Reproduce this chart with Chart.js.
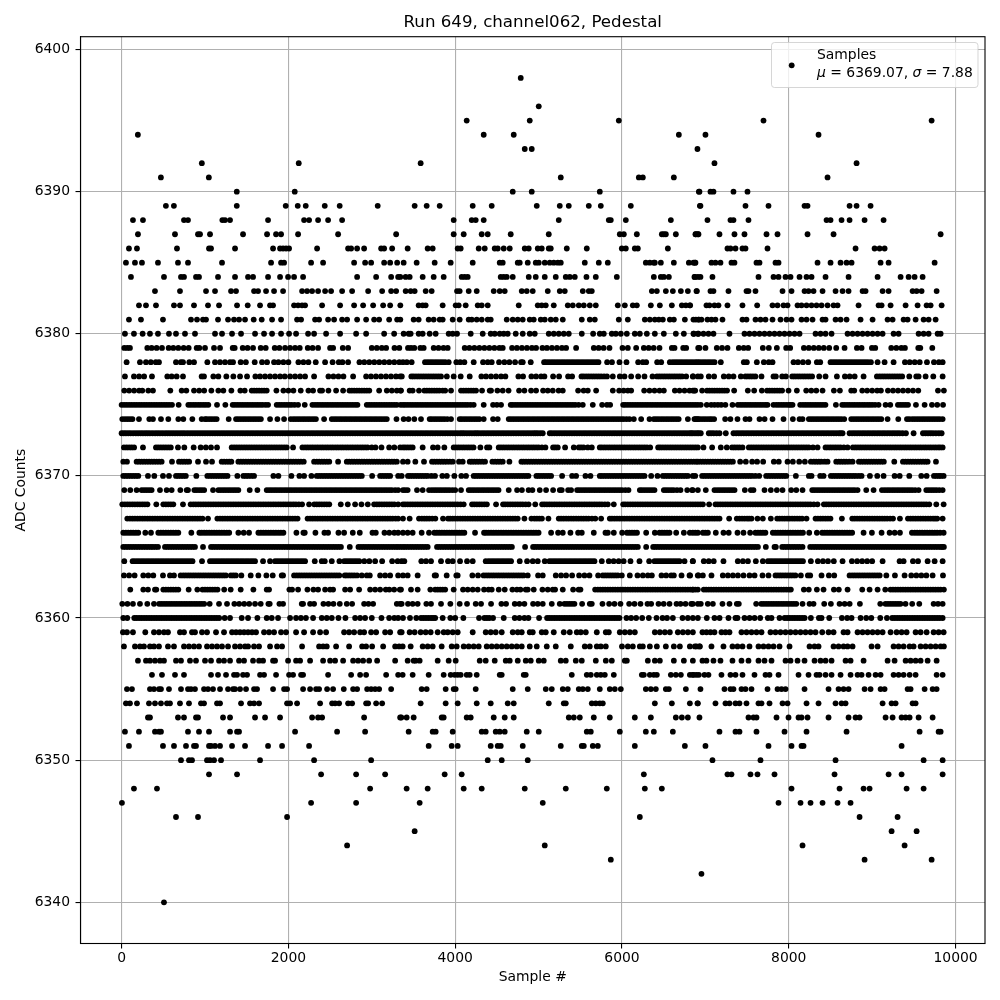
<!DOCTYPE html>
<html>
<head>
<meta charset="utf-8">
<script src="https://cdn.jsdelivr.net/npm/chart.js@4"></script>
<style>
html, body { margin: 0; padding: 0; background: #fff; }
canvas { display: block; }
</style>
</head>
<body>
<canvas id="scatter" width="1000" height="1000"></canvas>
<script>
// sample numbers, one list per ADC level
const s6340 = [508];
const s6342 = [6953];
const s6343 = [5866,8909,9713];
const s6344 = [2704,5074,8165,9389];
const s6345 = [3514,9233,9533];
const s6346 = [652,916,1984,6214,8849,9305];
const s6347 = [4,2272,2812,3574,5050,7877,8141,8261,8405,8585,8741];
const s6348 = [148,424,2980,3418,3670,4102,4318,4834,5326,5818,6274,6478,8033,8609,8897,8969,9413,9617];
const s6349 = [1048,1384,2392,2812,3160,3874,4078,6262,7265,7313,7541,7625,7829,8549,9197,9353,9845];
const s6350 = [712,808,844,1024,1060,1108,1192,1660,2308,2992,4390,4558,4870,7085,7661,8561,9617,9845];
const s6351 = [88,496,628,772,868,892,1048,1072,1120,1180,1324,1480,1756,1924,2248,3682,3958,4030,4426,4510,4546,4810,5266,5518,5542,5650,5710,6154,6754,7001,7757,8033,8153,8177,9353];
const s6352 = [40,208,400,448,472,796,928,1048,1300,1384,1408,2080,2584,2920,3442,3730,3766,3970,4318,4366,4486,4534,4594,4858,5002,5578,5626,5974,6286,6382,6610,7169,7361,7409,7613,7949,8213,8693,9569,9797,9821];
const s6353 = [316,340,676,748,892,916,1216,1300,1600,1720,1900,2284,2356,2404,2908,3340,3354,3418,3502,3838,3862,4138,4186,4462,4594,4702,5362,5422,5494,5662,5854,6154,6346,6646,6718,6790,6929,7517,7577,7613,7853,7997,8117,8153,8225,8477,8717,8801,8849,9161,9245,9353,9401,9449,9557,9725];
const s6354 = [52,100,184,328,400,472,544,580,700,808,952,988,1144,1180,1432,1540,1588,1648,1984,2020,2104,2380,2524,2560,2608,2716,2764,2932,2956,3052,3124,3586,3886,4030,4258,4426,4630,4702,5122,5302,5326,5638,5686,5734,5770,6394,6598,6814,6910,6905,7121,7241,7289,7361,7409,7493,7637,7673,7769,7925,7985,8213,8357,8561,8633,8681,9125,9233,9281,9485,9521];
const s6355 = [64,124,340,388,448,472,568,712,796,832,880,988,1036,1096,1180,1276,1336,1360,1420,1492,1588,1624,1816,1948,1984,2176,2260,2332,2368,2464,2536,2664,2776,2824,2944,2992,3040,3088,3232,3598,3658,3886,3982,4006,4246,4690,4870,5086,5158,5290,5350,5482,5530,5590,5734,5854,5914,5986,6286,6346,6406,6526,6562,6766,6941,7229,7301,7337,7433,7481,7553,7745,7865,7913,7961,8189,8477,8597,8657,8717,8909,8981,9101,9149,9425,9461,9629,9725,9773];
const s6356 = [364,484,640,748,1072,1156,1252,1348,1384,1456,1504,1660,1708,1852,2008,2056,2152,2176,2476,2752,2860,2932,3172,3316,3370,3490,3682,3862,3946,3994,4030,4066,4138,4174,4258,4534,4558,4822,4846,5398,5578,5626,5698,5746,5794,5902,6238,6262,6334,6382,6418,6586,6646,6706,6814,6862,6922,6845,6893,6989,7037,7193,7301,7361,7445,7589,7721,7769,7877,8117,8237,8333,8369,8441,8513,8621,8741,8825,8873,8957,9041,9101,9257,9317,9377,9449,9521,9773,9845];
const s6357 = [196,292,340,400,460,508,652,712,820,892,1000,1072,1168,1228,1300,1408,1468,1576,1648,1696,1816,1840,1996,2092,2140,2260,2416,2500,2560,2656,2776,2836,2896,2968,3064,3280,3430,3502,3526,3574,3790,3922,4006,4294,4366,4474,4606,4654,4750,4846,4906,5002,5062,5266,5326,5446,5518,5686,5806,5878,6034,6058,6310,6394,6454,6622,6742,6850,6965,7013,7097,7181,7325,7433,7517,7637,7709,7793,7961,8021,8105,8189,8309,8381,8441,8513,8681,8741,8897,9185,9269,9401,9461,9521,9581,9665,9773];
const s6358 = [28,160,220,268,340,388,448,556,628,748,808,868,928,1024,1084,1144,1204,1276,1360,1420,1480,1516,1588,1648,1780,1864,1924,2164,2368,2416,2460,2572,2728,2884,2932,3004,3136,3280,3328,3370,3466,3610,3670,3730,3838,3958,4018,4102,4162,4222,4282,4378,4438,4498,4558,4618,4678,4738,4798,4894,4978,5098,5206,5386,5554,5614,5698,5746,5806,6000,6070,6130,6214,6250,6334,6418,6526,6622,6694,6814,6874,6934,6893,6929,7073,7217,7325,7385,7445,7529,7637,7697,7757,7817,7889,8009,8249,8309,8357,8537,8597,8657,8705,8765,8993,9065,9257,9317,9377,9449,9497,9581,9641,9701,9761,9821,9860];
const s6359 = [16,64,136,284,388,448,508,556,700,748,844,880,964,1024,1132,1228,1324,1372,1420,1468,1516,1564,1612,1708,1768,1828,1912,1972,2092,2188,2296,2380,2452,2668,2728,2788,2860,2908,2992,3052,3160,3220,3340,3358,3454,3514,3586,3646,3706,3790,3862,3910,3970,4030,4210,4366,4426,4486,4558,4690,4750,4798,4894,4930,5038,5086,5182,5302,5374,5458,5506,5566,5698,5806,5842,5974,6034,6094,6154,6394,6454,6514,6574,6670,6730,6790,6850,6965,7013,7061,7109,7193,7241,7289,7433,7493,7553,7613,7673,7781,7841,7901,7961,8021,8081,8141,8201,8261,8321,8401,8477,8537,8657,8705,8825,8885,8945,9005,9065,9125,9221,9293,9353,9413,9521,9581,9653,9737,9797,9857];
const s6360 = [20,68,152,210,270,330,390,450,510,570,630,690,750,810,870,930,990,1050,1110,1170,1236,1300,1440,1516,1628,1740,1800,1876,2020,2092,2150,2210,2296,2400,2460,2520,2600,2684,2800,2860,2920,3000,3116,3208,3270,3316,3374,3458,3534,3590,3650,3710,3760,3850,3942,4000,4098,4286,4350,4410,4454,4582,4714,4770,4830,4878,5006,5102,5160,5220,5280,5340,5400,5460,5520,5580,5640,5700,5760,5820,5880,5940,5970,6054,6110,6170,6242,6322,6414,6486,6540,6610,6726,6790,6850,6910,7017,7109,7170,7277,7361,7385,7469,7530,7590,7657,7749,7793,7889,7950,8010,8070,8130,8190,8265,8361,8393,8485,8637,8700,8753,8861,8929,8990,9097,9177,9240,9300,9360,9420,9480,9540,9600,9660,9720,9780,9845];
const s6361 = [8,70,136,220,308,388,450,510,570,630,690,750,810,870,930,990,1056,1168,1264,1352,1410,1470,1530,1600,1668,1760,1776,1892,1936,2160,2176,2260,2308,2420,2480,2540,2616,2700,2764,2908,2960,3016,3300,3340,3358,3434,3490,3550,3654,3710,3830,3942,4054,4142,4246,4310,4430,4554,4610,4714,4770,4830,4934,4990,5050,5158,5254,5310,5370,5430,5522,5614,5638,5766,5846,5910,5982,6086,6150,6222,6306,6350,6438,6500,6570,6654,6702,6762,6830,6910,6849,6945,7029,7090,7205,7289,7377,7401,7609,7670,7730,7790,7850,7910,7970,8030,8090,8165,8249,8297,8425,8505,8609,8670,8730,8853,9097,9160,9220,9280,9340,9400,9480,9565,9737,9790,9845];
const s6362 = [104,260,316,400,416,500,560,620,680,804,908,970,1030,1090,1150,1230,1308,1428,1580,1740,1768,2012,2044,2116,2228,2300,2356,2440,2500,2536,2680,2740,2848,2980,3040,3100,3168,3210,3268,3336,3350,3470,3550,3702,3760,3820,3880,3982,4094,4150,4210,4270,4346,4400,4438,4522,4594,4686,4740,4782,4846,4870,4942,5046,5110,5170,5198,5290,5414,5480,5502,5678,5740,5800,5860,5920,5980,6040,6100,6160,6220,6280,6340,6400,6460,6520,6580,6640,6700,6760,6820,6880,6910,6849,6981,7040,7100,7160,7220,7280,7340,7400,7460,7520,7580,7640,7700,7760,7820,7880,7940,8000,8025,8181,8240,8337,8417,8541,8600,8705,8881,8969,9065,9157,9220,9280,9340,9400,9460,9520,9580,9640,9700,9760,9820,9860];
const s6363 = [28,90,156,260,320,380,496,580,628,708,770,830,890,950,1010,1070,1130,1190,1250,1310,1370,1436,1548,1640,1736,1812,1920,1936,2068,2130,2190,2250,2310,2370,2430,2490,2550,2610,2676,2700,2760,2824,2880,2940,2976,3100,3160,3220,3316,3374,3430,3550,3754,3770,3898,4014,4030,4206,4274,4340,4400,4460,4520,4580,4640,4700,4760,4820,4870,4994,5050,5206,5270,5330,5402,5486,5550,5610,5714,5770,5830,5890,5950,5998,6094,6186,6250,6310,6358,6474,6530,6590,6622,6714,6810,6918,6817,6909,6970,7073,7209,7270,7330,7390,7457,7529,7590,7685,7757,7841,7900,7960,8020,8080,8145,8229,8257,8393,8481,8545,8729,8790,8850,8910,8970,9030,9090,9170,9273,9389,9469,9530,9590,9650,9725,9849];
const s6364 = [32,132,190,250,310,370,430,490,550,610,670,730,790,850,964,1060,1120,1180,1240,1300,1360,1420,1480,1540,1600,1696,1780,1840,1900,1960,2020,2080,2140,2200,2316,2400,2436,2520,2612,2670,2730,2790,2850,2910,2970,3040,3124,3244,3310,3358,3390,3594,3650,3710,3830,3914,3970,4058,4142,4210,4366,4430,4490,4550,4610,4670,4774,4862,4930,4990,5074,5130,5190,5250,5310,5370,5430,5490,5550,5610,5670,5758,5842,5900,5960,6020,6102,6210,6326,6390,6450,6510,6570,6630,6690,6750,6850,6849,6981,7040,7100,7217,7389,7450,7510,7605,7689,7750,7810,7870,7930,7990,8050,8110,8170,8265,8349,8410,8470,8540,8645,8757,8820,8880,8940,9000,9125,9329,9377,9489,9550,9665,9749,9845];
const s6365 = [20,80,140,200,260,320,376,436,520,580,640,700,760,820,880,976,1072,1130,1190,1250,1310,1370,1430,1490,1550,1610,1670,1730,1790,1850,1910,1970,2030,2090,2150,2210,2270,2330,2390,2450,2510,2570,2630,2736,2840,2900,2960,3020,3080,3140,3200,3260,3316,3374,3430,3490,3550,3610,3670,3782,3840,3900,3960,4020,4080,4140,4200,4260,4320,4380,4440,4500,4560,4620,4680,4838,4934,4990,5050,5110,5170,5230,5290,5350,5410,5470,5530,5590,5650,5710,5770,5830,5890,5950,6010,6070,6130,6190,6290,6374,6430,6490,6550,6610,6670,6730,6790,6850,6910,6970,7030,7090,7150,7210,7270,7330,7390,7450,7510,7570,7630,7725,7829,7845,7921,7980,8040,8100,8165,8257,8320,8380,8440,8500,8560,8620,8680,8740,8800,8860,8920,8980,9040,9100,9160,9220,9280,9340,9400,9460,9520,9580,9640,9700,9760,9820,9860];
const s6366 = [20,80,140,200,284,352,440,500,560,620,680,836,932,990,1050,1110,1170,1230,1290,1400,1464,1528,1640,1700,1760,1820,1880,1940,2096,2180,2196,2324,2432,2476,2600,2668,2772,2856,3008,3048,3152,3210,3270,3316,3374,3430,3490,3598,3686,3750,3810,3870,3930,3990,4050,4110,4238,4346,4400,4460,4520,4580,4640,4700,4760,4820,4880,4940,5000,5150,5234,5290,5382,5474,5518,5662,5802,5830,5902,6002,6060,6120,6180,6290,6394,6450,6510,6570,6650,6742,6814,6880,6910,6849,6970,7030,7125,7217,7280,7385,7457,7537,7600,7660,7720,7809,7870,7930,7990,8050,8110,8170,8245,8337,8400,8460,8520,8580,8640,8700,8760,8897,8997,9113,9209,9270,9333,9477,9540,9600,9660,9720,9780,9857];
const s6367 = [68,130,190,250,310,370,430,490,550,610,670,730,790,850,910,970,1036,1148,1210,1270,1330,1390,1450,1510,1570,1630,1690,1750,1810,1870,1930,1990,2050,2110,2230,2290,2350,2410,2470,2530,2590,2650,2710,2770,2830,2890,2950,3010,3070,3130,3190,3250,3316,3374,3454,3566,3630,3690,3762,3854,3914,3970,4030,4090,4150,4210,4270,4330,4390,4450,4510,4570,4630,4690,4750,4830,4914,4980,5040,5118,5242,5300,5360,5420,5480,5540,5600,5680,5750,5854,5910,5970,6030,6090,6150,6210,6270,6330,6390,6450,6510,6570,6630,6690,6750,6810,6870,6930,6990,7050,7110,7170,7285,7377,7440,7500,7553,7625,7689,7785,7861,7920,7980,8040,8100,8160,8213,8321,8380,8440,8500,8637,8761,8820,8880,8940,9000,9060,9120,9180,9250,9333,9429,9490,9550,9610,9670,9730,9780,9845];
const s6368 = [8,70,130,190,250,310,416,500,560,620,736,828,890,950,1010,1070,1130,1190,1250,1310,1370,1430,1490,1550,1610,1670,1730,1790,1850,1910,1970,2030,2090,2164,2248,2310,2370,2430,2490,2628,2712,2800,2876,2952,3028,3090,3150,3210,3270,3316,3374,3430,3490,3550,3610,3670,3730,3790,3850,3910,3970,4030,4102,4202,4260,4320,4380,4490,4574,4630,4690,4750,4810,4880,4960,5042,5100,5160,5220,5280,5340,5400,5460,5520,5580,5640,5700,5760,5830,5902,6014,6070,6130,6190,6250,6310,6370,6430,6490,6550,6610,6670,6730,6790,6850,6910,6970,7045,7121,7180,7240,7300,7360,7420,7480,7540,7600,7660,7720,7780,7840,7900,7960,8020,8080,8140,8200,8260,8345,8421,8480,8540,8600,8660,8720,8780,8840,8900,8960,9020,9080,9140,9200,9260,9320,9380,9440,9500,9560,9620,9685,9769,9857];
const s6369 = [32,104,180,240,300,360,460,540,600,704,780,796,872,930,990,1096,1160,1220,1280,1340,1400,1536,1628,1740,1800,1860,1920,1980,2040,2100,2160,2220,2280,2340,2400,2460,2520,2580,2640,2700,2760,2820,2880,2940,3000,3060,3120,3180,3240,3316,3374,3430,3542,3610,3686,3750,3810,3870,3930,4000,4070,4162,4220,4280,4340,4400,4460,4520,4642,4742,4800,4880,4926,5014,5090,5174,5254,5278,5354,5390,5462,5520,5580,5640,5700,5760,5820,5880,5940,6000,6078,6214,6270,6330,6390,6502,6560,6620,6702,6782,6840,6910,6849,7005,7109,7170,7230,7290,7350,7473,7545,7577,7709,7785,7857,7925,8029,8090,8165,8281,8340,8400,8460,8520,8580,8640,8700,8760,8825,8929,9017,9117,9180,9240,9300,9360,9420,9480,9557,9649,9710,9770,9845];
const s6370 = [20,80,140,200,316,392,496,568,652,710,770,896,1028,1090,1150,1210,1270,1388,1460,1520,1588,1820,1880,2036,2132,2188,2276,2340,2400,2460,2520,2580,2640,2700,2760,2820,2880,3004,3100,3160,3220,3316,3358,3434,3490,3550,3610,3670,3758,3846,3900,3990,4074,4130,4222,4280,4340,4400,4460,4520,4580,4640,4700,4760,4820,4878,4974,5030,5090,5150,5282,5402,5450,5562,5622,5734,5790,5850,5910,5970,6030,6090,6150,6210,6270,6350,6426,6490,6550,6610,6670,6730,6790,6878,6849,6961,7020,7080,7140,7200,7260,7320,7380,7440,7500,7560,7645,7729,7790,7850,7910,7970,8085,8241,8273,8377,8417,8505,8565,8625,8685,8745,8805,8873,8973,9061,9137,9269,9330,9445,9589,9653,9741,9800,9857];
const s6371 = [20,64,180,240,300,360,420,480,604,688,750,810,916,1012,1084,1200,1260,1316,1400,1460,1520,1580,1640,1700,1760,1820,1880,1940,2000,2060,2120,2184,2308,2370,2430,2490,2596,2700,2760,2820,2880,2940,3000,3060,3120,3180,3240,3300,3374,3430,3522,3626,3722,3780,3840,3900,3970,4046,4090,4174,4230,4290,4358,4446,4510,4570,4650,4794,4850,4910,4970,5030,5090,5150,5210,5270,5330,5390,5450,5510,5570,5630,5690,5750,5810,5870,5930,5990,6050,6110,6170,6230,6290,6350,6410,6470,6530,6590,6650,6710,6770,6830,6890,6910,6970,7030,7090,7150,7210,7270,7330,7417,7485,7561,7620,7693,7821,7880,7985,8049,8125,8193,8265,8330,8390,8465,8569,8630,8690,8765,8841,8900,8960,9020,9080,9140,9265,9369,9430,9490,9550,9610,9665,9765];
const s6372 = [28,90,150,256,412,470,530,590,676,752,864,948,1010,1072,1144,1320,1380,1440,1500,1560,1620,1680,1740,1800,1860,1920,1980,2056,2168,2230,2290,2350,2410,2470,2530,2590,2650,2710,2770,2830,2890,2950,3044,3116,3208,3270,3340,3374,3430,3490,3610,3734,3790,3870,3982,4040,4100,4160,4220,4302,4382,4410,4522,4580,4640,4700,4760,4820,4880,4940,5000,5082,5174,5230,5318,5422,5482,5540,5638,5734,5790,5850,5910,5970,6030,6090,6150,6210,6270,6338,6434,6490,6550,6610,6670,6730,6790,6850,6910,6977,7081,7185,7257,7320,7380,7445,7521,7580,7640,7700,7760,7820,7880,7940,8000,8060,8120,8180,8240,8345,8441,8500,8560,8620,8705,8769,8830,8890,8950,9010,9070,9130,9190,9250,9310,9370,9430,9490,9550,9610,9670,9730,9790,9845];
const s6373 = [0,52,108,170,228,285,340,402,460,522,580,640,700,758,820,880,940,1000,1060,1120,1180,1240,1300,1360,1420,1480,1540,1600,1660,1720,1780,1840,1900,1960,2020,2080,2140,2200,2260,2320,2380,2440,2500,2560,2620,2680,2740,2800,2860,2920,2980,3040,3100,3160,3220,3280,3340,3400,3460,3520,3580,3640,3700,3760,3820,3880,3940,4000,4060,4110,4170,4230,4280,4340,4400,4460,4520,4580,4640,4700,4760,4820,4880,4940,4990,5050,5134,5190,5250,5310,5370,5430,5490,5550,5610,5670,5730,5790,5850,5910,5970,6030,6090,6150,6210,6270,6330,6390,6450,6510,6570,6630,6690,6750,6810,6849,6900,6945,7041,7100,7170,7245,7337,7400,7460,7520,7580,7640,7700,7760,7820,7880,7940,8000,8060,8120,8180,8240,8300,8360,8420,8480,8540,8600,8645,8729,8790,8850,8910,8970,9030,9090,9150,9210,9270,9330,9405,9497,9609,9670,9730,9800,9833];
const s6374 = [8,70,130,208,332,376,472,560,680,740,848,960,1020,1080,1140,1284,1372,1430,1490,1550,1610,1670,1780,1868,1948,2028,2090,2150,2210,2270,2330,2428,2520,2580,2640,2700,2760,2820,2880,2940,3000,3060,3120,3180,3296,3382,3440,3510,3590,3694,3750,3810,3870,3950,4054,4110,4170,4230,4290,4342,4454,4510,4642,4700,4760,4820,4880,4940,5000,5060,5120,5180,5240,5300,5360,5420,5480,5540,5600,5660,5720,5780,5840,5900,5960,6020,6090,6142,6230,6330,6382,6440,6500,6560,6620,6680,6790,6882,6910,6869,6930,6990,7050,7105,7237,7300,7385,7481,7529,7649,7710,7805,7937,8049,8129,8165,8241,8300,8360,8420,8480,8540,8600,8665,8749,8810,8870,8930,8990,9050,9110,9185,9313,9417,9480,9540,9600,9660,9720,9780,9845];
const s6375 = [0,60,120,180,240,300,360,420,480,540,604,684,800,860,920,980,1040,1144,1244,1332,1390,1450,1510,1570,1630,1690,1756,1860,1920,1980,2040,2116,2196,2288,2350,2410,2470,2530,2590,2650,2710,2770,2828,2940,3000,3060,3120,3180,3240,3300,3345,3374,3430,3490,3550,3610,3670,3730,3790,3850,3910,3970,4030,4090,4150,4222,4342,4454,4500,4550,4666,4720,4780,4840,4900,4960,5020,5080,5140,5200,5260,5320,5380,5440,5530,5650,5762,5820,5858,6014,6070,6130,6190,6250,6310,6370,6430,6490,6550,6610,6670,6730,6790,6850,6910,6945,7017,7070,7110,7150,7190,7240,7325,7389,7450,7510,7570,7630,7690,7745,7817,7880,7940,8000,8045,8137,8200,8260,8320,8380,8440,8565,8641,8700,8760,8820,8880,8940,9000,9077,9161,9217,9309,9370,9430,9525,9629,9717,9780,9850];
const s6376 = [32,90,150,210,248,320,376,584,720,776,868,930,990,1076,1160,1220,1316,1424,1476,1560,1620,1680,1740,1856,1940,2000,2060,2148,2240,2296,2380,2404,2480,2572,2656,2732,2790,2850,2910,2970,3088,3180,3240,3300,3345,3350,3454,3490,3566,3630,3690,3750,3810,3880,3950,4070,4130,4190,4250,4322,4414,4430,4506,4570,4640,4766,4830,4910,4970,5054,5110,5170,5240,5290,5474,5540,5590,5690,5890,5966,6020,6070,6110,6266,6330,6390,6450,6502,6634,6690,6750,6810,6878,6849,6865,6961,7020,7080,7140,7200,7260,7345,7509,7585,7677,7740,7800,7860,7920,7997,8097,8209,8270,8330,8405,8541,8613,8749,8785,8881,8940,9000,9060,9105,9189,9250,9310,9370,9430,9490,9553,9789,9860];
const s6377 = [40,148,210,270,364,548,600,660,736,960,988,1100,1160,1256,1340,1420,1504,1604,1660,1720,1780,1840,1900,1956,2020,2080,2140,2200,2308,2480,2540,2600,2660,2776,2932,2990,3050,3110,3170,3230,3290,3340,3360,3474,3530,3590,3650,3710,3770,3830,3900,3982,4066,4174,4314,4370,4430,4490,4550,4602,4758,4814,4914,4970,5030,5070,5174,5246,5354,5402,5514,5570,5630,5690,5750,5820,5890,5974,6030,6110,6194,6270,6366,6420,6480,6540,6600,6660,6720,6770,6854,6910,6849,6945,7041,7105,7221,7280,7337,7425,7480,7540,7600,7673,7817,7845,7921,7965,8041,8100,8160,8220,8280,8365,8441,8577,8673,8730,8790,8897,9057,9120,9180,9240,9300,9360,9445,9529,9557,9641,9733,9845];
const s6378 = [60,220,292,350,410,448,652,710,736,812,868,1028,1120,1180,1240,1300,1336,1428,1490,1596,1684,1744,1828,1880,1940,2000,2120,2180,2240,2328,2440,2530,2604,2648,2716,2852,2910,2970,3030,3090,3150,3210,3270,3330,3374,3420,3478,3638,3700,3760,3820,3880,3922,4014,4060,4110,4222,4334,4390,4438,4526,4590,4650,4718,4790,4810,4906,5066,5120,5180,5240,5300,5360,5420,5480,5540,5600,5660,5718,5822,5880,5970,6054,6194,6250,6290,6422,6470,6574,6640,6700,6760,6820,6880,6930,6990,7050,7110,7185,7461,7497,7617,7701,7760,7805,8057,8110,8170,8233,8337,8377,8501,8560,8620,8680,8740,8800,8860,8920,8985,9065,9149,9257,9393,9450,9510,9570,9657,9741,9800,9845];
const s6379 = [32,68,100,308,360,420,484,564,620,680,744,804,900,932,1000,1108,1180,1332,1356,1452,1510,1576,1668,1728,1836,1892,1960,2020,2080,2136,2232,2290,2356,2500,2536,2652,2716,3000,3060,3120,3172,3272,3330,3434,3470,3510,3582,3622,3742,3800,3860,3910,4114,4170,4230,4290,4350,4410,4470,4530,4570,4682,4740,4800,4860,4920,4970,5046,5100,5160,5220,5280,5330,5450,5662,5720,5780,5850,6006,6070,6170,6262,6320,6380,6450,6598,6630,6734,6770,6914,6929,7001,7137,7200,7265,7401,7460,7513,7689,7761,7857,7969,8017,8181,8240,8300,8360,8420,8485,8569,8669,8817,8873,8997,9037,9229,9290,9350,9393,9553,9577,9721];
const s6380 = [40,148,252,340,436,568,652,760,880,1120,1204,1324,1432,1600,1708,1804,1912,2008,2092,2236,2308,2452,2620,2812,2932,3148,3268,3382,3442,3466,3562,3610,3694,3766,3922,3970,4022,4186,4330,4426,4474,4534,4582,4630,4726,4810,4894,4954,5122,5182,5242,5302,5362,5518,5654,5734,5782,5878,5926,5986,6058,6154,6214,6298,6394,6502,6646,6742,6862,6910,6857,6917,6977,7037,7097,7289,7469,7529,7589,7649,7709,7769,7829,7889,7949,8009,8069,8129,8321,8381,8441,8513,8705,8765,8825,8885,8945,9005,9065,9125,9257,9317,9557,9617,9677,9785,9821];
const s6381 = [88,232,496,832,904,976,1012,1156,1276,1348,1408,1480,1584,1680,1804,1912,2104,2152,2320,2368,2476,2548,2644,2704,2824,2932,3028,3088,3208,3304,3342,3502,3562,3682,3742,3814,3850,3970,4054,4162,4198,4258,4318,4390,4426,4618,4690,4750,4810,4894,4942,5026,5074,5146,5206,5290,5518,5614,5674,5962,6070,6274,6334,6394,6442,6490,6574,6622,6754,6886,6922,6857,6917,6953,7025,7073,7121,7205,7445,7493,7601,7661,7721,7805,7901,7973,8033,8153,8213,8285,8405,8441,8561,8621,8693,8861,9005,9185,9245,9377,9425,9521,9617,9677,9761];
const s6382 = [208,292,412,628,700,868,1036,1168,1384,1512,1660,1780,1816,2068,2116,2164,2200,2404,2620,2788,2896,3016,3136,3220,3342,3562,3610,3646,3850,4006,4042,4126,4270,4318,4390,4762,4990,5038,5086,5182,5350,5410,5482,5542,5614,5686,5950,6034,6130,6178,6346,6454,6598,6718,6766,6814,6817,7013,7049,7109,7157,7265,7445,7621,7805,7865,7937,7985,8105,8153,8213,8273,8333,8393,8465,8537,8585,8837,9077,9113,9221,9401,9545,9653,9701,9833];
const s6383 = [400,700,1012,1120,1312,1372,1588,1636,1732,1828,1936,2164,2224,2284,2356,2440,2512,2644,2764,2956,3124,3232,3292,3406,3466,3514,3646,3718,4022,4054,4162,4258,4462,4534,4594,4798,4858,4930,5110,5254,5314,5530,5602,5638,6358,6418,6526,6610,6706,6790,6898,6893,7061,7097,7277,7493,7517,7601,7925,8033,8189,8237,8297,8405,8561,8645,8717,8885,8921,9125,9197,9485,9533,9593,9773];
const s6384 = [112,508,712,748,892,928,1156,1360,1516,1576,1756,1900,1996,2068,2176,2824,3052,3232,3316,3342,3406,3454,3610,3742,3862,4078,4114,4150,4546,4582,4618,4690,4882,4966,5074,5206,5326,5374,5434,5574,5686,5938,6382,6466,6502,6562,6874,6910,6869,6941,7085,7637,7817,7877,7961,8021,8129,8213,8273,8441,8717,9065,9341,9437,9509,9605];
const s6385 = [52,160,244,436,676,796,1204,1792,1912,1948,2272,2416,2788,2920,2992,3148,3220,3304,3382,3538,3754,3946,4210,4534,4570,4750,4774,4870,4966,5002,5074,5134,5182,5230,5266,5554,5722,5830,6286,6334,6382,6394,6466,6622,6802,6874,6857,6881,7073,7121,7181,7313,7349,7613,7649,7841,7877,8345,8501,8621,8693,8753,9101,9197,9749];
const s6386 = [88,184,664,1048,1072,1360,1816,1900,1936,1972,2008,2344,2716,2752,2824,2908,3112,3148,3244,3430,3670,3730,4030,4066,4282,4354,4474,4510,4582,4654,4834,4882,4990,5038,5122,5146,5338,5578,5998,6046,6154,6190,6550,7265,7301,7361,7445,7481,7745,8801,9029,9089,9149];
const s6387 = [196,640,916,940,1060,1456,1744,1852,1912,2116,2596,3292,3982,4102,4318,4390,4666,5122,5974,6022,6178,6478,6502,6526,6646,6886,6910,6881,6917,7169,7349,7469,7733,7865,8225,8537,9821];
const s6388 = [136,256,748,796,1208,1240,1300,1756,2188,2248,2356,2476,2644,3982,4198,4246,4342,5242,5842,5866,6046,6586,7025,7301,7337,7517,8453,8501,8633,8729,8909,9137];
const s6389 = [531,627,1381,1968,2112,2208,2436,2615,3071,3514,3658,3814,4210,4438,4978,5254,5362,5602,5746,6106,6934,6941,7481,7757,8189,8225,8729,8813,8981];
const s6390 = [1381,2076,4690,4918,5734,6922,6929,7061,7097,7337,7505];
const s6391 = [471,1046,5266,6202,6250,6622,8465];
const s6392 = [962,2124,3586,7109,8813];
const s6393 = [4834,4918,6905];
const s6394 = [195,4342,4702,6682,7001,8357];
const s6395 = [4138,4894,5962,7697,9713];
const s6396 = [5002];
const s6398 = [4786];

// more samples where the streaks in the picture are solid
const e6360 = [180,240,300,360,420,480,540,600,660,720,780,840,900,960,1020,1080,1140,3620,3680,3735,4380,5130,5190,5250,5310,5370,5430,5490,5550,5610,5670,5730,5790,5850,5910,7980,8040,8100,8160,9270,9330,9390,9450,9510,9570,9630,9690,9750,9810];
const e6361 = [480,540,600,660,720,780,840,900,960,5340,5400,7700,7760,7820,7880,7940,8000,8060,9190,9250,9310];
const e6362 = [530,590,650,1000,1060,1120,3790,3850,5710,5770,5830,5890,5950,6010,6070,6130,6190,6250,6310,6370,6430,6490,6550,6610,6670,6730,6790,6850,7010,7070,7130,7190,7250,7310,7370,7430,7490,7550,7610,7670,7730,7790,7850,7910,7970,9250,9310,9370,9430,9490,9550,9610,9670,9730,9790];
const e6363 = [740,800,860,920,980,1040,1100,1160,1220,1340,2100,2160,2220,2280,2340,2400,2460,2520,2580,2730,2790,4370,4430,4490,4550,4610,4670,4730,4790,5800,5860,5920,7870,7930,7990,8050,8760,8820,8880,8940,9000,9060];
const e6364 = [160,220,280,340,400,460,520,580,640,700,760,820,1090,1150,1210,1270,1330,1390,1450,1510,1570,1870,1930,1990,2050,2110,2170,2700,2760,2820,4400,4460,4520,4580,4640,5160,5220,5280,5340,5400,5460,5520,5580,5640,6420,6480,6540,6600,6660,7780,7840,7900,7960,8020,8080,8140];
const e6365 = [50,110,170,230,290,350,406,550,610,670,730,790,850,1100,1160,1220,1280,1340,1400,1460,1520,1580,1640,1700,1760,1820,1880,1940,2000,2060,2120,2180,2240,2300,2360,2420,2480,2540,2600,2870,2930,2990,3050,3110,3170,3230,3290,3345,3400,3460,3520,3580,3640,3810,3870,3930,3990,4050,4110,4170,4230,4290,4350,4410,4470,4530,4590,4650,4960,5020,5080,5140,5200,5260,5320,5380,5440,5500,5560,5620,5680,5740,5800,5860,5920,5980,6040,6100,6160,6400,6460,6520,6580,6640,6700,6760,6820,6880,6940,7000,7060,7120,7180,7240,7300,7360,7420,7480,7540,7600,7950,8010,8070,8130,8290,8350,8410,8470,8530,8590,8650,8710,8770,8830,8890,8950,9010,9070,9130,9190,9250,9310,9370,9430,9490,9550,9610,9670,9730,9790,9840];
const e6366 = [50,110,170,470,530,590,650,960,1020,1080,1140,1200,1260,1670,1730,1790,1850,1910,3780,3840,3900,3960,4020,4080,4370,4430,4490,4550,4610,4670,4730,4790,4850,4910,4970,6090,6150,6480,6540,7000,7630,7690,7840,7900,7960,8020,8080,8140,8430,8490,8550,8610,8670,8730,9510,9570,9630,9690,9750,9815];
const e6367 = [100,160,220,280,340,400,460,520,580,640,700,760,820,880,940,1180,1240,1300,1360,1420,1480,1540,1600,1660,1720,1780,1840,1900,1960,2020,2080,2260,2320,2380,2440,2500,2560,2620,2680,2740,2800,2860,2920,2980,3040,3100,3160,3220,3285,3600,3660,3725,3940,4000,4060,4120,4180,4240,4300,4360,4420,4480,4540,4600,4660,4720,4950,5010,5270,5330,5390,5450,5510,5570,5640,5880,5940,6000,6060,6120,6180,6240,6300,6360,6420,6480,6540,6600,6660,6720,6780,6840,6900,6960,7020,7080,7140,7410,7470,7525,7890,7950,8010,8070,8130,8350,8410,8470,8790,8850,8910,8970,9030,9090,9150,9215,9460,9520,9580,9640,9700,9755];
const e6368 = [40,100,160,220,280,530,590,860,920,980,1040,1100,1160,1220,1280,1340,1400,1460,1520,1580,1640,1700,1760,1820,1880,1940,2000,2060,2125,2340,2400,2460,3060,3120,3180,3240,3400,3460,3520,3580,3640,3700,3760,3820,3880,3940,4000,4065,4230,4290,4350,4600,4660,4720,4780,4845,5070,5130,5190,5250,5310,5370,5430,5490,5550,5610,5670,5730,5795,6040,6100,6160,6220,6280,6340,6400,6460,6520,6580,6640,6700,6760,6820,6880,6940,7150,7210,7270,7330,7390,7450,7510,7570,7630,7690,7750,7810,7870,7930,7990,8050,8110,8170,8230,8300,8450,8510,8570,8630,8690,8750,8810,8870,8930,8990,9050,9110,9170,9230,9290,9350,9410,9470,9530,9590,9650];
const e6369 = [270,330,900,960,1190,1250,1310,1370,1770,1830,1890,1950,2010,2070,2130,2190,2250,2310,2370,2430,2490,2550,2610,2670,2730,2790,2850,2910,2970,3030,3090,3150,3210,3280,3400,3720,3780,3840,3900,3965,4190,4250,4310,4370,4430,4490,5490,5550,5610,5670,5730,5790,5850,5910,5970,6040,6240,6300,6360,6530,6590,6660,7140,7200,7260,7320,8310,8370,8430,8490,8550,8610,8670,8730,8790,9150,9210,9270,9330,9390,9450,9515,9680,9740,9805];
const e6370 = [50,110,170,680,740,1060,1120,1180,1240,1490,1555,2370,2430,2490,2550,2610,2670,2730,2790,2850,3130,3190,3460,3520,3580,3640,3715,4250,4310,4370,4430,4490,4550,4610,4670,4730,4790,4850,5000,5060,5120,5760,5820,5880,5940,6000,6060,6120,6180,6240,6520,6580,6640,6700,6760,6990,7050,7110,7170,7230,7290,7350,7410,7470,7530,7600,7760,7820,7880,7940,8535,8595,8655,8715,8775,8840,9770,9825];
const e6371 = [210,270,330,390,450,720,780,1230,1290,1430,1490,1550,1610,1670,1730,1790,1850,1910,1970,2030,2090,2150,2340,2400,2460,2730,2790,2850,2910,2970,3030,3090,3150,3210,3270,3750,3810,3870,3935,4200,4260,4325,4480,4540,4820,4880,4940,5000,5060,5120,5180,5240,5300,5360,5420,5480,5540,5600,5660,5720,5780,5840,5900,5960,6020,6080,6140,6200,6260,6320,6380,6440,6500,6560,6620,6680,6740,6800,6860,6940,7000,7060,7120,7180,7240,7300,8300,8360,8430,8600,8660,8725,8870,8930,8990,9050,9110,9400,9460,9520,9580,9640];
const e6372 = [60,120,440,500,560,1350,1410,1470,1530,1590,1650,1710,1770,1830,1890,1950,2200,2260,2320,2380,2440,2500,2560,2620,2680,2740,2800,2860,2920,3000,3400,3460,4010,4070,4130,4190,4550,4610,4670,4730,4790,4850,4910,4970,5040,5200,5510,5590,5760,5820,5880,5940,6000,6060,6120,6180,6240,6300,6460,6520,6580,6640,6700,6760,6820,6880,7350,7410,7550,7610,7670,7730,7790,7850,7910,7970,8030,8090,8150,8210,8290,8470,8530,8590,8660,8800,8860,8920,8980,9040,9100,9160,9220,9280,9340,9400,9460,9520,9580,9640,9700,9760,9815];
const e6373 = [26,80,139,199,256,312,371,431,491,551,610,670,729,789,850,910,970,1030,1090,1150,1210,1270,1330,1390,1450,1510,1570,1630,1690,1750,1810,1870,1930,1990,2050,2110,2170,2230,2290,2350,2410,2470,2530,2590,2650,2710,2770,2830,2890,2950,3010,3070,3130,3190,3250,3310,3370,3430,3490,3550,3610,3670,3730,3790,3850,3910,3970,4030,4085,4140,4200,4255,4310,4370,4430,4490,4550,4610,4670,4730,4790,4850,4910,4965,5020,5160,5220,5280,5340,5400,5460,5520,5580,5640,5700,5760,5820,5880,5940,6000,6060,6120,6180,6240,6300,6360,6420,6480,6540,6600,6660,6720,6780,6830,6875,6920,7070,7135,7370,7430,7490,7550,7610,7670,7730,7790,7850,7910,7970,8030,8090,8150,8210,8270,8330,8390,8450,8510,8570,8622,8760,8820,8880,8940,9000,9060,9120,9180,9240,9300,9365,9640,9700,9765];
const e6374 = [40,100,1000,1050,1110,1400,1460,1520,1580,1640,2060,2120,2180,2240,2300,2550,2610,2670,2730,2790,2850,2910,2970,3030,3090,3150,3720,3780,3840,3905,4080,4140,4200,4260,4670,4730,4790,4850,4910,4970,5030,5090,5150,5210,5270,5330,5390,5450,5510,5570,5630,5690,5750,5810,5870,5930,5990,6055,6410,6470,6530,6590,6650,6900,6960,7020,7075,8270,8330,8390,8450,8510,8570,8630,8780,8840,8900,8960,9020,9080,9445,9510,9570,9630,9690,9750,9810];
const e6375 = [30,90,150,210,270,330,390,450,510,570,830,890,950,1010,1360,1420,1480,1540,1600,1660,1725,1890,1950,2010,2075,2320,2380,2440,2500,2560,2620,2680,2740,2800,2970,3030,3090,3150,3210,3270,3400,3460,3520,3580,3640,3700,3760,3820,3880,3940,4000,4060,4120,4185,4690,4750,4810,4870,4930,4990,5050,5110,5170,5230,5290,5350,5410,5480,6040,6100,6160,6220,6280,6340,6400,6460,6520,6580,6640,6700,6760,6820,6880,7420,7480,7540,7600,7660,7720,7850,7910,7970,8020,8170,8230,8290,8350,8410,8670,8730,8790,8850,8910,8970,9035,9340,9400];
const e6376 = [1590,1650,1710,2760,2820,2880,2940,3660,3720,3780,3850,4100,4160,4220,7050,7110,7170,7230,7770,7830,7890];
const e6377 = [3500,3560,3620,3680,3740,3800,5540,5600,5660,5720,5785,6450,6510,6570,6630,6690,7510,7570,8070,8130,8190,8250,9090,9150,9210,9270,9330];
const e6378 = [3670,3730,3790,3850,5090,5150,5210,5270,5330,5390,5450,5510,5570,5630,5690,6610,6670,6730,6790,6850,6905,6960,7020,7080,8530,8590,8650,8710,8770,8830,8890,8950];

const adcLevels = [6340,6342,6343,6344,6345,6346,6347,6348,6349,6350,6351,6352,6353,6354,6355,6356,6357,6358,6359,6360,6361,6362,6363,6364,6365,6366,6367,6368,6369,6370,6371,6372,6373,6374,6375,6376,6377,6378,6379,6380,6381,6382,6383,6384,6385,6386,6387,6388,6389,6390,6391,6392,6393,6394,6395,6396,6398];
const levelSamples = [s6340,s6342,s6343,s6344,s6345,s6346,s6347,s6348,s6349,s6350,s6351,s6352,s6353,s6354,s6355,s6356,s6357,s6358,s6359,s6360,s6361,s6362,s6363,s6364,s6365,s6366,s6367,s6368,s6369,s6370,s6371,s6372,s6373,s6374,s6375,s6376,s6377,s6378,s6379,s6380,s6381,s6382,s6383,s6384,s6385,s6386,s6387,s6388,s6389,s6390,s6391,s6392,s6393,s6394,s6395,s6396,s6398];
const denseLevels = [6360,6361,6362,6363,6364,6365,6366,6367,6368,6369,6370,6371,6372,6373,6374,6375,6376,6377,6378];
const denseSamples = [e6360,e6361,e6362,e6363,e6364,e6365,e6366,e6367,e6368,e6369,e6370,e6371,e6372,e6373,e6374,e6375,e6376,e6377,e6378];

const xTicks = [0,2000,4000,6000,8000,10000];
const yTicks = [6340,6350,6360,6370,6380,6390,6400];

const fontName = '"DejaVu Sans"';
const tickFont = { family: fontName, size: 13.9 };

const points = [];
function addLevels(levels, lists) {
    levels.forEach(function(level, i) {
        lists[i].forEach(function(sample) {
            points.push({ x: sample, y: level });
        });
    });
}
addLevels(adcLevels, levelSamples);
addLevels(denseLevels, denseSamples);

// box round the axes, Chart.js only draws the left and bottom edges
const axesBox = {
    id: 'axesBox',
    afterDatasetsDraw(chart) {
        const a = chart.chartArea;
        const c = chart.ctx;
        c.save();
        c.strokeStyle = '#000';
        c.lineWidth = 1.1;
        c.strokeRect(a.left, a.top, a.right - a.left, a.bottom - a.top);
        c.restore();
    }
};

// legend with the mixed italic second line
const statsLegend = {
    id: 'statsLegend',
    afterDraw(chart) {
        const c = chart.ctx;
        c.save();
        c.beginPath();
        c.roundRect(771.5, 42.5, 206.5, 45, 3);
        c.fillStyle = 'rgba(255,255,255,0.8)';
        c.fill();
        c.strokeStyle = 'rgba(204,204,204,0.8)';
        c.lineWidth = 1;
        c.stroke();

        c.fillStyle = '#000';
        c.beginPath();
        c.arc(791.7, 65.3, 2.9, 0, Math.PI * 2);
        c.fill();

        c.textBaseline = 'alphabetic';
        const upright = '13.9px ' + fontName;
        const italic = 'italic 13.9px ' + fontName;
        c.font = upright;
        c.fillText('Samples', 817, 59);
        let x = 817;
        [['μ', italic], [' = 6369.07, ', upright], ['σ', italic], [' = 7.88', upright]].forEach(function(part) {
            c.font = part[1];
            c.fillText(part[0], x, 76.5);
            x += c.measureText(part[0]).width;
        });
        c.restore();
    }
};

const ctx = document.getElementById('scatter').getContext('2d');
new Chart(ctx, {
    type: 'scatter',
    data: {
        datasets: [{
            label: 'Samples',
            data: points,
            backgroundColor: '#000',
            borderWidth: 0,
            pointRadius: 2.9,
            pointHoverRadius: 2.9
        }]
    },
    options: {
        responsive: false,
        animation: false,
        events: [],
        layout: { padding: { right: 15 } },
        scales: {
            x: {
                type: 'linear',
                min: -493,
                max: 10353,
                afterBuildTicks(axis) { axis.ticks = xTicks.map(v => ({ value: v })); },
                afterFit(axis) { axis.height = 56.5; },
                ticks: {
                    color: '#000',
                    font: tickFont,
                    padding: 2,
                    maxRotation: 0,
                    autoSkip: false,
                    callback: v => String(v)
                },
                grid: { color: '#b0b0b0', lineWidth: 1.1, tickColor: '#000', tickLength: 5 },
                border: { color: '#000', width: 1.1 },
                title: {
                    display: true,
                    text: 'Sample #',
                    color: '#000',
                    font: tickFont,
                    padding: { top: 0, bottom: 14 }
                }
            },
            y: {
                type: 'linear',
                min: 6337.1,
                max: 6400.9,
                afterBuildTicks(axis) { axis.ticks = yTicks.map(v => ({ value: v })); },
                afterFit(axis) { axis.width = 80.5; },
                ticks: {
                    color: '#000',
                    font: tickFont,
                    padding: 5.5,
                    autoSkip: false,
                    callback: v => String(v)
                },
                grid: { color: '#b0b0b0', lineWidth: 1.1, tickColor: '#000', tickLength: 5 },
                border: { color: '#000', width: 1.1 },
                title: {
                    display: true,
                    text: 'ADC Counts',
                    color: '#000',
                    font: tickFont,
                    padding: { top: 12.7, bottom: 0 }
                }
            }
        },
        plugins: {
            legend: { display: false },
            tooltip: { enabled: false },
            title: {
                display: true,
                fullSize: false,
                text: 'Run 649, channel062, Pedestal',
                color: '#000',
                font: { family: fontName, size: 16.67, weight: 'normal' },
                padding: { top: 13, bottom: 3.7 }
            }
        }
    },
    plugins: [axesBox, statsLegend]
});
</script>
</body>
</html>
